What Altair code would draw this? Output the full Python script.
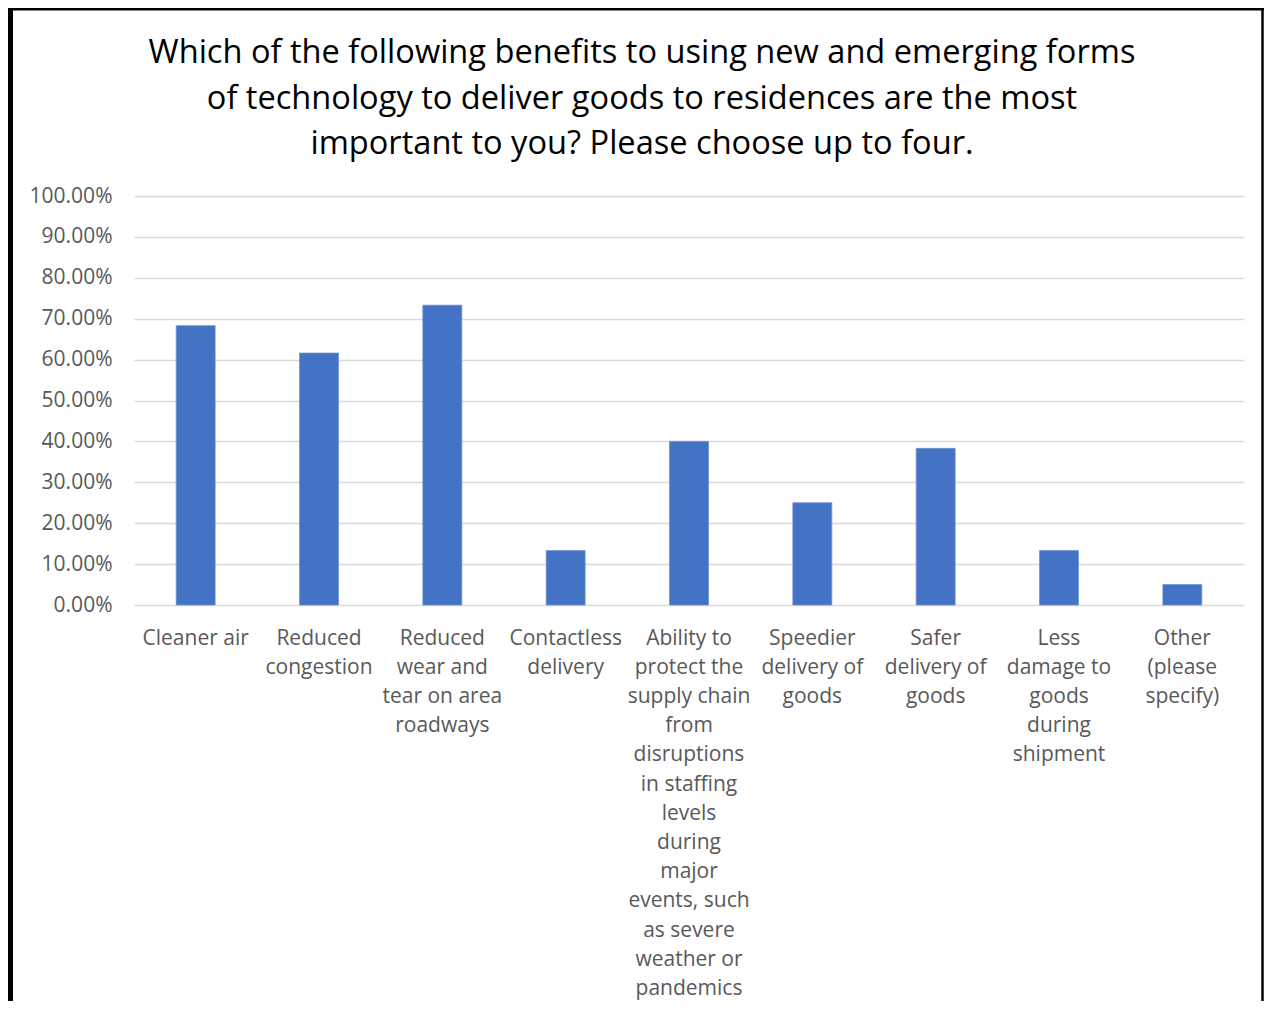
import altair as alt
import pandas as pd

categories = [
    "Cleaner air",
    "Reduced congestion",
    "Reduced wear and tear on area roadways",
    "Contactless delivery",
    "Ability to protect the supply chain from disruptions in staffing levels during major events, such as severe weather or pandemics",
    "Speedier delivery of goods",
    "Safer delivery of goods",
    "Less damage to goods during shipment",
    "Other (please specify)",
]
label_lines = [
    ["Cleaner air"],
    ["Reduced", "congestion"],
    ["Reduced", "wear and", "tear on area", "roadways"],
    ["Contactless", "delivery"],
    ["Ability to", "protect the", "supply chain", "from", "disruptions", "in staffing", "levels", "during", "major", "events, such", "as severe", "weather or", "pandemics"],
    ["Speedier", "delivery of", "goods"],
    ["Safer", "delivery of", "goods"],
    ["Less", "damage to", "goods", "during", "shipment"],
    ["Other", "(please", "specify)"],
]
values = [0.683, 0.616, 0.733, 0.133, 0.400, 0.250, 0.383, 0.133, 0.050]
y_ticks = [0.0, 0.1, 0.2, 0.3, 0.4, 0.5, 0.6, 0.7, 0.8, 0.9, 1.0]

title_lines = [
    "Which of the following benefits to using new and emerging forms",
    "of technology to deliver goods to residences are the most",
    "important to you? Please choose up to four.",
]

df = pd.DataFrame({"category": categories, "value": values})

label_map = {c: "|".join(l) for c, l in zip(categories, label_lines)}
expr_parts = " : ".join([f"datum.label == {c!r} ? {label_map[c]!r}" for c in categories]) + " : datum.label"
label_expr = f"split({expr_parts}, '|')"

FONT = "Open Sans"
GRAY = "#595959"

bars = alt.Chart(df).mark_bar(color="#4472C4", stroke="#6f93d4", strokeWidth=0.8).encode(
    x=alt.X("category:N", sort=categories, title=None,
            scale=alt.Scale(paddingInner=0.684, paddingOuter=0.342),
            axis=alt.Axis(labelAngle=0, labelExpr=label_expr, labelBaseline="top",
                          labelLineHeight=29.2, labelPadding=22, labelLimit=0,
                          labelOverlap=False, labelBound=False, labelFlush=False,
                          ticks=False, domain=False, labelFont=FONT, labelFontSize=21,
                          labelColor=GRAY)),
    y=alt.Y("value:Q", title=None,
            scale=alt.Scale(domain=[0, 1], nice=False),
            axis=alt.Axis(values=y_ticks, format=".2%", ticks=False, domain=False,
                          grid=True, gridColor="#d9d9d9", gridWidth=1.5,
                          labelPadding=22, labelFont=FONT, labelFontSize=21,
                          labelColor=GRAY)),
)

frame = alt.Data(values=[{"k": 1}])
left_line = alt.Chart(frame).mark_rule(color="black", strokeWidth=5).encode(
    x=alt.value(-123.5), y=alt.value(-190), y2=alt.value(810))
top_line = alt.Chart(frame).mark_rule(color="black", strokeWidth=3).encode(
    x=alt.value(-126), x2=alt.value(1130), y=alt.value(-187))
right_line = alt.Chart(frame).mark_rule(color="black", strokeWidth=2.5).encode(
    x=alt.value(1128.5), y=alt.value(-188), y2=alt.value(810))

title = alt.Chart(alt.Data(values=[{"t": title_lines}])).mark_text(
    font=FONT, fontSize=32.6, color="black", align="center", baseline="alphabetic",
    lineHeight=45.5,
).encode(text="t:N", x=alt.value(508), y=alt.value(-133))

chart = alt.layer(bars, left_line, top_line, right_line, title).properties(
    width=1110,
    height=409,
    padding={"left": 126, "top": 188, "right": 20, "bottom": 396},
    autosize=alt.AutoSizeParams(type="none"),
).configure_view(stroke=None)

chart.save("out.html", embed_options={"renderer": "svg", "actions": False})
